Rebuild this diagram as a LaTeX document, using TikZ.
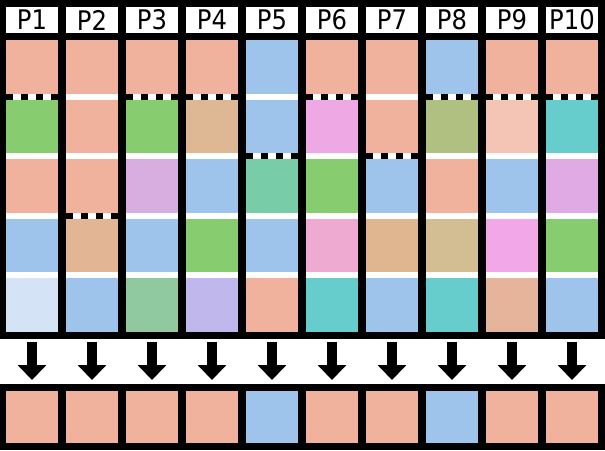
\documentclass[tikz,border=0pt]{standalone}
\usepackage{fontspec}
\newfontfamily\hdrfont[FakeStretch=0.9]{DejaVu Sans}
\usetikzlibrary{arrows.meta}
\definecolor{sal}{HTML}{F0B29C}
\definecolor{grn}{HTML}{88CC70}
\definecolor{blu}{HTML}{9EC4EC}
\definecolor{lil}{HTML}{D8AEE0}
\definecolor{plil}{HTML}{E0AAE4}
\definecolor{pnk}{HTML}{EEA8E4}
\definecolor{bpk}{HTML}{F2A8E8}
\definecolor{tea}{HTML}{66CDCC}
\definecolor{wbl}{HTML}{D4E4F6}
\definecolor{sgr}{HTML}{E2B694}
\definecolor{sgt}{HTML}{DEB894}
\definecolor{gbl}{HTML}{90C8A0}
\definecolor{lbl}{HTML}{C0B8EC}
\definecolor{tgr}{HTML}{78CCA8}
\definecolor{psl}{HTML}{EEAAD0}
\definecolor{sor}{HTML}{E0B690}
\definecolor{gsl}{HTML}{B0C080}
\definecolor{sgw}{HTML}{D2BE92}
\definecolor{swt}{HTML}{F4C4B4}
\definecolor{sgd}{HTML}{E6B49A}

\begin{document}
\begin{tikzpicture}[x=1pt,y=-1pt,
	cell/.style={inner sep=0pt, outer sep=0pt, minimum width=52pt, minimum height=53.5pt, anchor=north west},
	hdr/.style={fill=white, inner sep=0pt, outer sep=0pt, minimum width=52pt, minimum height=26pt, anchor=north west, font=\hdrfont\fontsize{27}{27}\selectfont},
	gap/.style={fill=white, inner sep=0pt, outer sep=0pt, minimum width=52pt, minimum height=6.1pt, anchor=north west},
	down/.style={line width=10pt, -{Triangle[width=28pt,length=15pt]}}]
	\fill[black] (0,0) rectangle (605,450);
	\fill[white] (0,339) rectangle (605,384);
	% columns P1..P10: five cells, the dashed gap, the result
	\foreach \col/\ca/\cb/\cc/\cd/\ce/\dk/\bc in {
		1/sal/grn/sal/blu/wbl/1/sal, 2/sal/sal/sal/sgr/blu/3/sal,
		3/sal/grn/lil/blu/gbl/1/sal, 4/sal/sgt/blu/grn/lbl/1/sal,
		5/blu/blu/tgr/blu/sal/2/blu, 6/sal/pnk/grn/psl/tea/1/sal,
		7/sal/sal/blu/sor/blu/2/sal, 8/blu/gsl/sal/sgw/tea/1/blu,
		9/sal/swt/blu/bpk/sgd/1/sal, 10/sal/tea/plil/grn/blu/1/sal} {
		\pgfmathsetmacro\xx{6+60*(\col-1)}
		\node[hdr] (h\col) at (\xx,7) {P\col};
		\node[cell, fill=\ca] (c\col-1) at (\xx,40) {};
		\node[cell, fill=\cb] (c\col-2) at (\xx,99.6) {};
		\node[cell, fill=\cc] (c\col-3) at (\xx,159.2) {};
		\node[cell, fill=\cd] (c\col-4) at (\xx,218.8) {};
		\node[cell, fill=\ce] (c\col-5) at (\xx,278.4) {};
		\foreach \k in {1,...,4} {
			\node[gap] (s\col-\k) at (c\col-\k.south west) {};
			\ifnum\k=\dk
				\foreach \q in {0,2,4,6}
					\fill[black] ([xshift={\q*52/7}]s\col-\k.north west) rectangle +(52/7,6.1);
			\fi
		}
		\coordinate (a\col) at (\xx+26,342);
		\coordinate (t\col) at (\xx+26,380);
		\draw[down] (a\col) -- (t\col);
		\node[cell, minimum height=52pt, fill=\bc] (b\col) at (\xx,391) {};
	}
\end{tikzpicture}
\end{document}
